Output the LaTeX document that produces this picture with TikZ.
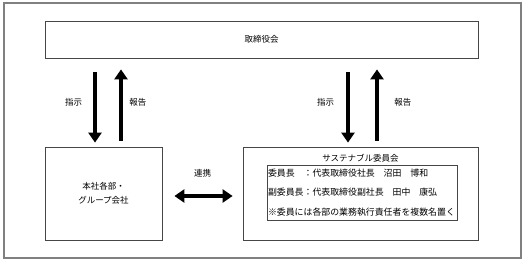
\documentclass[tikz,border=0pt]{standalone}
\usepackage{fontspec}
\setmainfont{Noto Sans CJK JP}
\usetikzlibrary{arrows.meta, positioning}
\definecolor{framegray}{RGB}{128,128,128}
\definecolor{boxgray}{RGB}{70,70,70}

\begin{document}
\begin{tikzpicture}[x=1pt, y=-1pt, >={Triangle[length=10pt, width=13pt]},
  box/.style={draw=boxgray, line width=0.8pt, inner sep=0pt, align=center, font=\fontsize{8.5}{14}\selectfont},
  bigarrow/.style={->, line width=4pt},
  tag/.style={font=\fontsize{8.5}{10}\selectfont}]
  \useasboundingbox (0,0) rectangle (525,262);
  \draw[framegray, line width=1.2pt] (4,3) rectangle (521,258);

  \node[box, minimum width=433pt, minimum height=37pt] (board) at (261.5,39.5) {取締役会};
  \node[box, minimum width=117pt, minimum height=93pt] (hq) at (103.5,193.5) {本社各部・\\グループ会社};
  \node[box, minimum width=235pt, minimum height=93pt] (committee) at (360.5,193.5) {};
  \node[tag, below=4pt of committee.north] (cttitle) {サステナブル委員会};
  \node[draw=boxgray, line width=0.8pt, inner sep=1pt, text width=188pt, minimum height=55pt,
        align=left, font=\fontsize{8.9}{19.5}\selectfont] (members) at (362,192.5)
    {委員長　：代表取締役社長　沼田　博和\\副委員長：代表取締役副社長　田中　康弘\\※委員には各部の業務執行責任者を複数名置く};

  % 指示 / 報告
  \coordinate (hqdown) at ([xshift=-8.5pt]hq.north);
  \coordinate (hqup) at ([xshift=17.5pt]hq.north);
  \coordinate (ctdown) at ([xshift=-12.5pt]committee.north);
  \coordinate (ctup) at ([xshift=16.5pt]committee.north);
  \draw[bigarrow, shorten <=14pt, shorten >=4pt] (hqdown |- board.south) -- (hqdown) node[tag, midway, left=7.5pt] {指示};
  \draw[bigarrow, shorten <=6pt, shorten >=11pt] (hqup) -- (hqup |- board.south) node[tag, midway, right=3pt] {報告};
  \draw[bigarrow, shorten <=14pt, shorten >=4pt] (ctdown |- board.south) -- (ctdown) node[tag, midway, left=8.5pt] {指示};
  \draw[bigarrow, shorten <=6pt, shorten >=11pt] (ctup) -- (ctup |- board.south) node[tag, midway, right=12pt] {報告};

  % 連携
  \draw[bigarrow, <->, line width=3.5pt, shorten <=12pt, shorten >=10pt] ([yshift=-2.5pt]hq.east) -- ([yshift=-2.5pt]committee.west)
    node[tag, midway, above=13.5pt] {連携};
\end{tikzpicture}
\end{document}
